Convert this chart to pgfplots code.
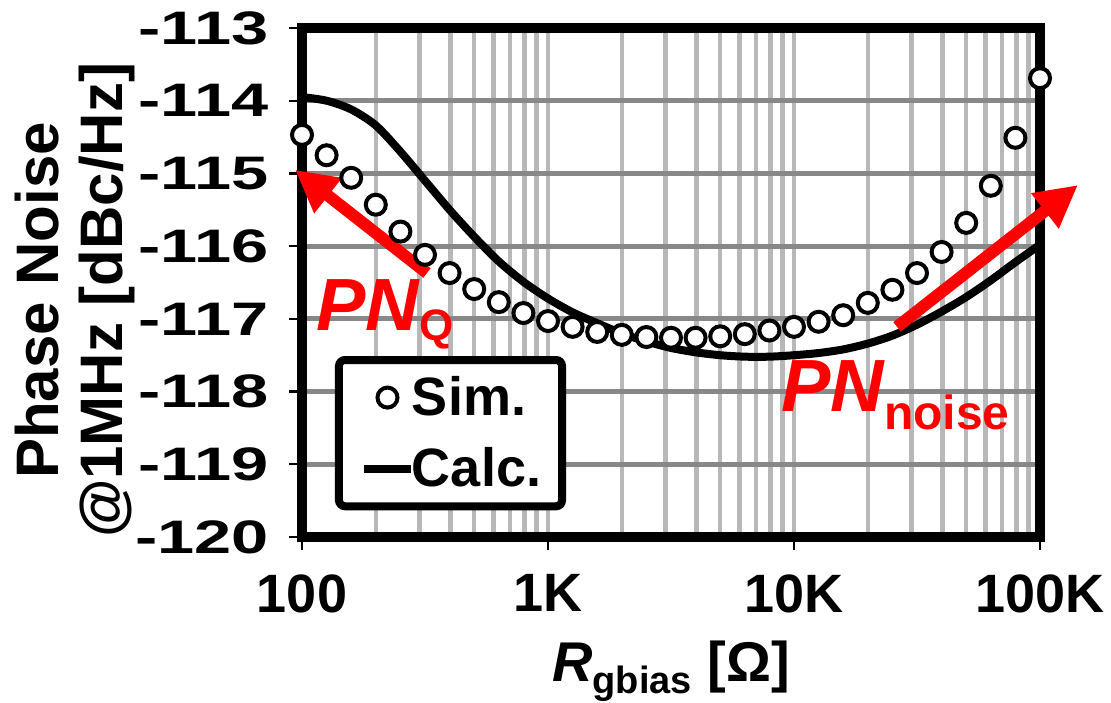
\documentclass[border=0pt]{standalone}
\usepackage{fontspec}
\setmainfont{Liberation Sans}
\usepackage{pgfplots}
\usepackage{pgfplotstable}
\pgfplotsset{compat=1.18}
\usetikzlibrary{arrows.meta}

\definecolor{majgrid}{HTML}{888888}
\definecolor{mingrid}{HTML}{B8B8B8}
\definecolor{pnred}{HTML}{FF0000}

\pgfplotsset{
    simimg/.style={legend image code/.code={\draw[mark repeat=1,mark phase=1,##1] plot coordinates {(11.75pt,0pt)};}},
    calcimg/.style={legend image code/.code={\draw[##1] (0pt,0pt) -- (23.5pt,0pt);}},
}

% R_gbias [Ohm], simulated and calculated phase noise @1MHz [dBc/Hz]
\pgfplotstableread{
r       sim      calc
100     -114.47  -113.95
125.89  -114.75  -114.00
158.49  -115.06  -114.12
199.53  -115.43  -114.34
251.19  -115.80  -114.70
316.23  -116.12  -115.10
398.11  -116.37  -115.50
501.19  -116.59  -115.87
630.96  -116.77  -116.21
794.33  -116.92  -116.49
1000    -117.03  -116.72
1258.9  -117.11  -116.91
1584.9  -117.18  -117.06
1995.3  -117.22  -117.20
2511.9  -117.25  -117.31
3162.3  -117.26  -117.40
3981.1  -117.26  -117.46
5011.9  -117.24  -117.50
6309.6  -117.21  -117.52
7943.3  -117.16  -117.52
10000   -117.11  -117.50
12589   -117.04  -117.47
15849   -116.95  -117.42
19953   -116.78  -117.34
25119   -116.60  -117.23
31623   -116.37  -117.08
39811   -116.08  -116.90
50119   -115.68  -116.70
63096   -115.17  -116.47
79433   -114.51  -116.22
100000  -113.69  -115.98
}\pnData

\begin{document}
\begin{tikzpicture}
\begin{axis}[
    name=ax,
    scale only axis,
    width=369pt, height=254.5pt,
    xmode=log,
    xmin=100, xmax=100000,
    ymin=-120, ymax=-113,
    xtick={100,1000,10000,100000},
    xticklabels={100,1K,10K,100K},
    ytick={-120,-119,...,-113},
    yticklabels={\scalebox{1.42}[1]{-120},\scalebox{1.42}[1]{-119},\scalebox{1.42}[1]{-118},\scalebox{1.42}[1]{-117},\scalebox{1.42}[1]{-116},\scalebox{1.42}[1]{-115},\scalebox{1.42}[1]{-114},\scalebox{1.42}[1]{-113}},
    xtick pos=bottom, ytick pos=left,
    tick align=outside,
    major tick length=6.5pt,
    minor tick length=0pt,
    tick style={line width=1.2pt, black},
    axis line style={line width=5pt},
    xmajorgrids, xminorgrids, ymajorgrids,
    major x grid style={mingrid, line width=2.4pt},
    minor x grid style={mingrid, line width=2.4pt},
    major y grid style={majgrid, line width=2.4pt},
    xticklabel style={font=\fontsize{27}{30}\selectfont\bfseries, anchor=north, inner sep=0pt, yshift=-12pt},
    yticklabel style={font=\fontsize{23.5}{28}\selectfont\bfseries, anchor=east, inner sep=0pt, xshift=-10pt},
    xlabel={\textit{R}{\fontsize{19}{20}\selectfont\raisebox{-6pt}{gbias}} [Ω]},
    xlabel style={font=\fontsize{28}{30}\selectfont\bfseries, at={(rel axis cs:0.5,-0.284)}, anchor=base, inner sep=0pt},
    ylabel={Phase Noise\\@1MHz [dBc/Hz]},
    ylabel style={font=\fontsize{30}{32}\selectfont\bfseries, align=center, at={(rel axis cs:-0.226,0.465)}, anchor=south, inner sep=0pt},
    clip=false,
    legend cell align=left,
    legend style={at={(rel axis cs:0.0447,0.3556)}, anchor=north west,
        draw=black, line width=4pt, rounded corners=3pt,
        font=\fontsize{27}{30}\selectfont\bfseries,
        inner xsep=10.5pt, inner ysep=8.25pt,
        nodes={inner sep=0pt},
        row sep=14.5pt, column sep=-1.5pt},
]
\addplot[only marks, mark=*, mark size=5pt,
    mark options={fill=white, draw=black, line width=2pt}, simimg]
    table[x=r, y=sim] {\pnData};
\addlegendentry{Sim.}
\addplot[black, line width=4pt, smooth, no marks, calcimg]
    table[x=r, y=calc] {\pnData};
\addlegendentry{Calc.\hspace{9pt}}

\draw[pnred, line width=6pt, -{Triangle[length=21pt, width=21pt]}]
    (axis cs:322,-116.37) -- (axis cs:93.7,-114.95);
\draw[pnred, line width=6pt, -{Triangle[length=21pt, width=21pt]}]
    (axis cs:26240,-117.11) -- (axis cs:142600,-115.16);
\node[pnred, anchor=base west, inner sep=0pt, font=\fontsize{37}{40}\selectfont\bfseries\itshape]
    at (axis cs:114,-117.154) {PN{\upshape\fontsize{22}{24}\selectfont\raisebox{-5pt}{Q}}};
\node[pnred, anchor=base west, inner sep=0pt, font=\fontsize{37}{40}\selectfont\bfseries\itshape]
    at (axis cs:8850,-118.28) {PN{\upshape\fontsize{24}{26}\selectfont\raisebox{-9pt}{noise}}};
\end{axis}
\pgfresetboundingbox
\path[use as bounding box] ([xshift=-151pt,yshift=-82.5pt]ax.south west) rectangle ([xshift=35.5pt,yshift=14pt]ax.north east);
\end{tikzpicture}
\end{document}
